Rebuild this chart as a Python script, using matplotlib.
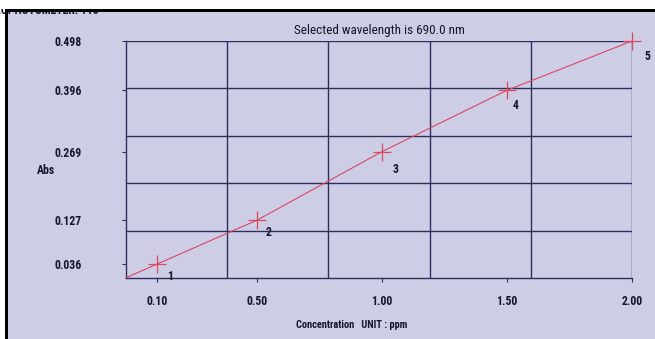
"""
分光光度计标准曲线截图复刻
"""

import numpy as np
import matplotlib
matplotlib.use('Agg')
import matplotlib.pyplot as plt
from matplotlib.patches import Rectangle

plt.rcParams['font.family'] = ['Roboto Condensed', 'DejaVu Sans']
plt.rcParams['font.weight'] = 'bold'

# 标准样品数据
sample_ids = ['1', '2', '3', '4', '5']
concentration = [0.10, 0.50, 1.00, 1.50, 2.00]
absorbance = [0.036, 0.127, 0.269, 0.396, 0.498]
x_tick_labels = ['0.10', '0.50', '1.00', '1.50', '2.00']
y_tick_labels = ['0.036', '0.127', '0.269', '0.396', '0.498']

BG = '#cdcee6'
GRID = '#2e2e5e'
RED = '#d9485f'
TEXT = '#15152e'

W, H = 655, 339


def fx(px):
    return px / W


def fy(py):
    return 1 - py / H


def create_figure():
    """
    画布 + 屏幕背景与黑边
    """
    fig = plt.figure(figsize=(6.55, 3.39), dpi=100)
    fig.patch.set_facecolor('white')
    fig.patches.append(Rectangle((fx(7), 0), 1 - fx(7), fy(10), transform=fig.transFigure,
                                 facecolor=BG, edgecolor='none', zorder=-2))
    # 顶部白边和黑框，盖住被截掉的标题
    fig.patches.append(Rectangle((0, fy(9)), 1, 1 - fy(9), transform=fig.transFigure,
                                 facecolor='white', edgecolor='none', zorder=6))
    fig.patches.append(Rectangle((fx(5), fy(11.5)), 1 - fx(5), fy(9) - fy(11.5), transform=fig.transFigure,
                                 facecolor='black', edgecolor='none', zorder=7))
    fig.patches.append(Rectangle((fx(5), 0), fx(3), fy(9), transform=fig.transFigure,
                                 facecolor='black', edgecolor='none', zorder=7))
    fig.text(fx(99), fy(11), 'SPECTROPHOTOMETER: 115', ha='right', va='center',
             fontsize=8.5, color=TEXT, zorder=3)
    return fig


def plot_curve(fig):
    """
    绘制标准曲线
    """
    ax = fig.add_axes([fx(126), fy(278), fx(632) - fx(126), fy(41) - fy(278)])
    ax.set_facecolor('none')
    xlim = (-0.025, 2.0)
    ylim = (0.007, 0.498)
    ax.set_xlim(xlim)
    ax.set_ylim(ylim)

    # 等分网格
    for gx in np.linspace(xlim[0], xlim[1], 6)[1:]:
        ax.axvline(gx, color=GRID, lw=1.0, zorder=1)
    for gy in np.linspace(ylim[0], ylim[1], 6)[1:]:
        ax.axhline(gy, color=GRID, lw=1.0, zorder=1)

    for side in ['top', 'right']:
        ax.spines[side].set_visible(False)
    for side in ['left', 'bottom']:
        ax.spines[side].set_color(GRID)
        ax.spines[side].set_linewidth(1.0)

    # 延长第一段到左边界
    slope = (absorbance[1] - absorbance[0]) / (concentration[1] - concentration[0])
    x_line = [xlim[0]] + concentration
    y_line = [absorbance[0] + slope * (xlim[0] - concentration[0])] + absorbance
    ax.plot(x_line, y_line, color=RED, lw=0.8, zorder=3, clip_on=False)
    ax.plot(concentration, absorbance, ls='none', marker='+', ms=13, mew=0.9,
            color=RED, zorder=4, clip_on=False)

    offsets = [(9, -9), (8, -9), (10, -13), (6, -11), (11, -11)]
    for sid, cx, cy, off in zip(sample_ids, concentration, absorbance, offsets):
        ax.annotate(sid, (cx, cy), xytext=off, textcoords='offset points',
                    fontsize=8.5, color=TEXT, ha='center', va='center')

    ax.set_xticks(concentration)
    ax.set_xticklabels(x_tick_labels)
    ax.set_yticks(absorbance)
    ax.set_yticklabels(y_tick_labels)
    ax.tick_params(axis='both', direction='out', length=3, width=0.8, color=GRID,
                   labelsize=8.5, labelcolor=TEXT)
    ax.tick_params(axis='y', pad=29)
    ax.tick_params(axis='x', pad=9)

    ax.set_title('Selected wavelength is 690.0 nm', fontsize=9.5, color=TEXT, pad=5)
    fig.text(fx(46), fy(170), 'Abs', ha='center', va='center', fontsize=8.5, color=TEXT)
    fig.text(fx(352), fy(325), 'Concentration   UNIT : ppm', ha='center', va='center',
             fontsize=7.5, color=TEXT)


def main():
    fig = create_figure()
    plot_curve(fig)
    fig.savefig('out.png', dpi=100)


if __name__ == '__main__':
    main()
